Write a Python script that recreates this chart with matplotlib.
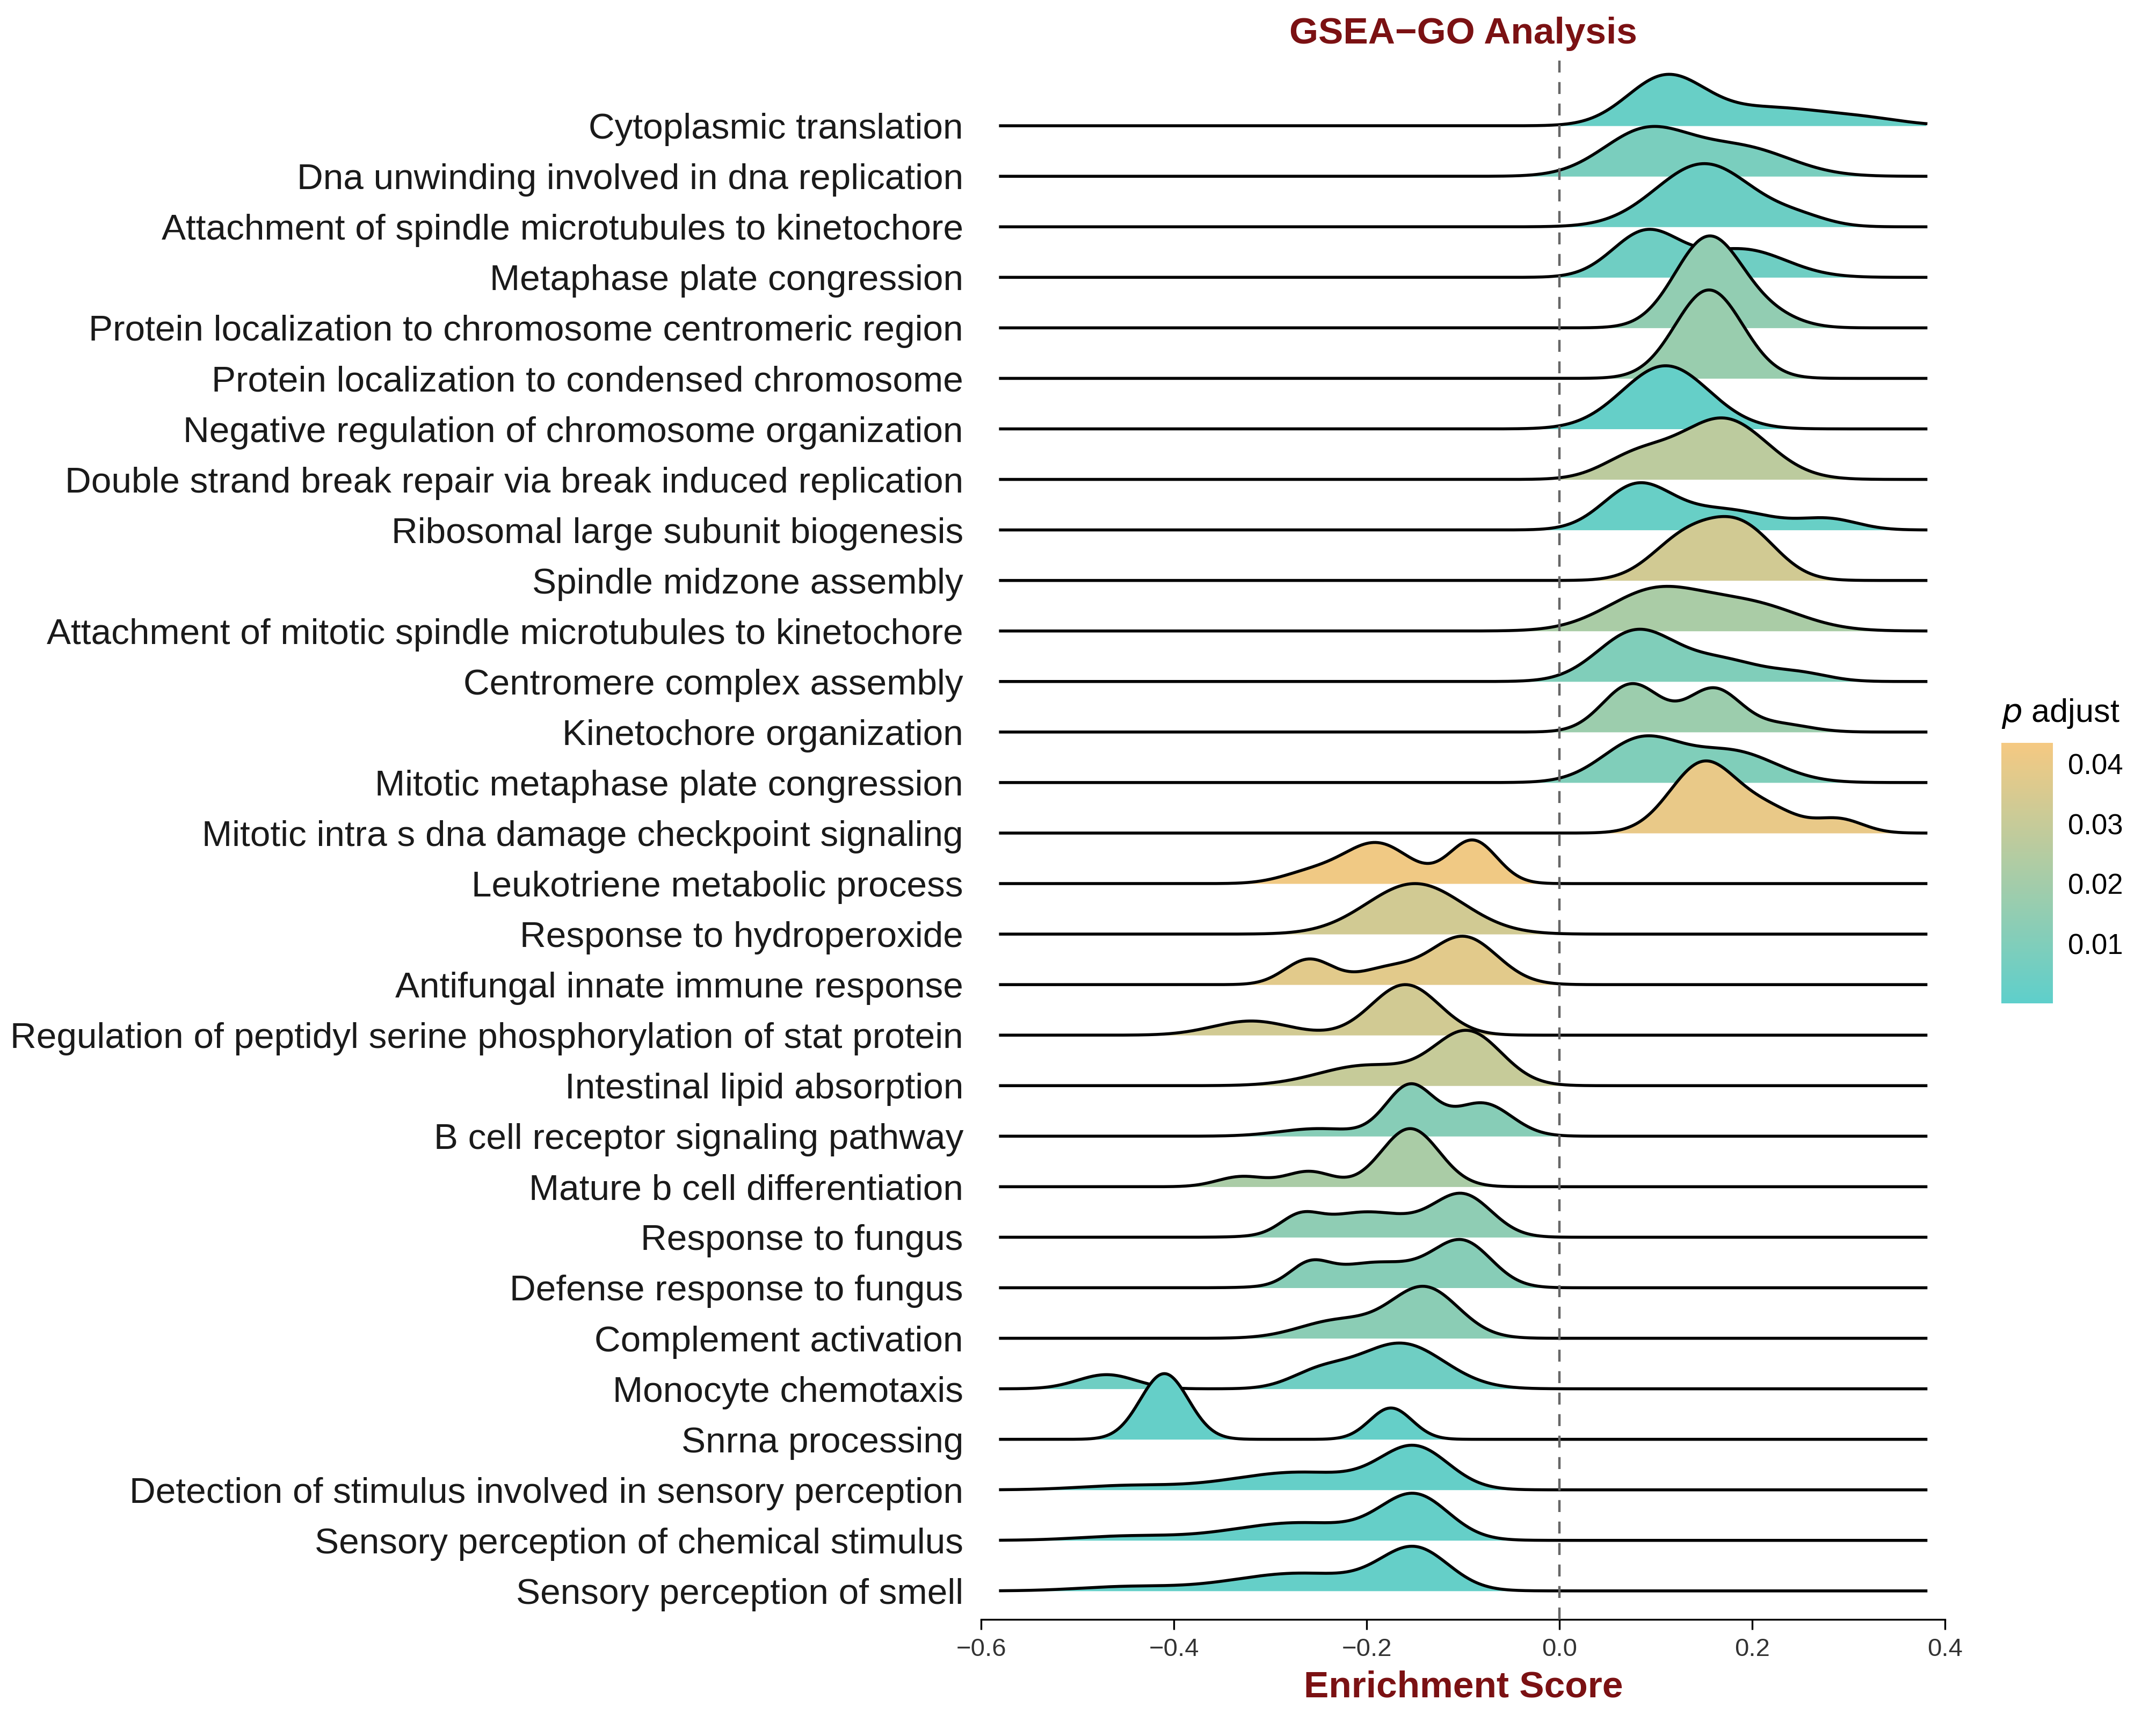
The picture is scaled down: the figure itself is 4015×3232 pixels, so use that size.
import numpy as np
import matplotlib
matplotlib.use("Agg")
import matplotlib.pyplot as plt
from matplotlib.colors import LinearSegmentedColormap, Normalize

plt.rcParams["font.family"] = ["Liberation Sans", "DejaVu Sans"]

# GO terms, top to bottom
terms = [
    "Cytoplasmic translation",
    "Dna unwinding involved in dna replication",
    "Attachment of spindle microtubules to kinetochore",
    "Metaphase plate congression",
    "Protein localization to chromosome centromeric region",
    "Protein localization to condensed chromosome",
    "Negative regulation of chromosome organization",
    "Double strand break repair via break induced replication",
    "Ribosomal large subunit biogenesis",
    "Spindle midzone assembly",
    "Attachment of mitotic spindle microtubules to kinetochore",
    "Centromere complex assembly",
    "Kinetochore organization",
    "Mitotic metaphase plate congression",
    "Mitotic intra s dna damage checkpoint signaling",
    "Leukotriene metabolic process",
    "Response to hydroperoxide",
    "Antifungal innate immune response",
    "Regulation of peptidyl serine phosphorylation of stat protein",
    "Intestinal lipid absorption",
    "B cell receptor signaling pathway",
    "Mature b cell differentiation",
    "Response to fungus",
    "Defense response to fungus",
    "Complement activation",
    "Monocyte chemotaxis",
    "Snrna processing",
    "Detection of stimulus involved in sensory perception",
    "Sensory perception of chemical stimulus",
    "Sensory perception of smell",
]

p_adjust = [0.003, 0.008, 0.004, 0.005, 0.015, 0.017, 0.002, 0.027, 0.003, 0.033,
            0.022, 0.010, 0.018, 0.010, 0.040, 0.042, 0.033, 0.038, 0.033, 0.030,
            0.012, 0.022, 0.014, 0.012, 0.013, 0.005, 0.002, 0.002, 0.002, 0.002]

# density components per term: (centre, height in row units, width)
components = [
    [(0.11, 0.95, 0.04), (0.22, 0.35, 0.06), (0.32, 0.1, 0.04)],
    [(0.09, 0.9, 0.045), (0.19, 0.55, 0.05)],
    [(0.15, 1.25, 0.05), (0.25, 0.15, 0.03)],
    [(0.09, 0.9, 0.035), (0.19, 0.55, 0.045)],
    [(0.155, 1.8, 0.035), (0.22, 0.2, 0.03)],
    [(0.155, 1.75, 0.035)],
    [(0.11, 1.25, 0.045)],
    [(0.17, 1.2, 0.045), (0.08, 0.45, 0.035)],
    [(0.08, 0.85, 0.035), (0.17, 0.4, 0.05), (0.28, 0.2, 0.03)],
    [(0.13, 0.8, 0.035), (0.19, 1.0, 0.035)],
    [(0.10, 0.8, 0.05), (0.20, 0.5, 0.05)],
    [(0.08, 1.0, 0.04), (0.17, 0.4, 0.04), (0.25, 0.15, 0.03)],
    [(0.075, 0.95, 0.03), (0.16, 0.85, 0.028), (0.23, 0.15, 0.03)],
    [(0.085, 0.85, 0.04), (0.18, 0.6, 0.045)],
    [(0.15, 1.4, 0.035), (0.22, 0.4, 0.03), (0.29, 0.27, 0.025)],
    [(-0.19, 0.8, 0.035), (-0.09, 0.85, 0.025), (-0.26, 0.2, 0.03)],
    [(-0.15, 1.0, 0.05)],
    [(-0.26, 0.5, 0.025), (-0.10, 0.95, 0.035), (-0.18, 0.3, 0.03)],
    [(-0.16, 1.0, 0.035), (-0.32, 0.28, 0.04)],
    [(-0.095, 1.05, 0.035), (-0.20, 0.4, 0.05)],
    [(-0.155, 1.0, 0.025), (-0.08, 0.65, 0.03), (-0.25, 0.15, 0.04)],
    [(-0.155, 1.15, 0.03), (-0.26, 0.3, 0.025), (-0.33, 0.2, 0.025)],
    [(-0.10, 0.8, 0.03), (-0.20, 0.5, 0.05), (-0.27, 0.3, 0.02)],
    [(-0.10, 0.85, 0.03), (-0.19, 0.5, 0.05), (-0.26, 0.35, 0.02)],
    [(-0.14, 1.0, 0.035), (-0.23, 0.35, 0.04)],
    [(-0.165, 0.9, 0.045), (-0.25, 0.3, 0.03), (-0.47, 0.28, 0.03)],
    [(-0.41, 1.3, 0.025), (-0.175, 0.62, 0.022)],
    [(-0.15, 0.8, 0.035), (-0.27, 0.35, 0.07), (-0.45, 0.08, 0.05)],
    [(-0.15, 0.85, 0.035), (-0.27, 0.35, 0.07), (-0.45, 0.08, 0.05)],
    [(-0.15, 0.8, 0.035), (-0.27, 0.35, 0.07), (-0.45, 0.08, 0.05)],
]

x_ticks = [-0.6, -0.4, -0.2, 0.0, 0.2, 0.4]
cbar_ticks = [0.01, 0.02, 0.03, 0.04]

title_color = "#7B1113"
cmap = LinearSegmentedColormap.from_list("padj", ["#5ECFCB", "#F5C982"])
norm = Normalize(vmin=0.0, vmax=0.0435)

fig = plt.figure(figsize=(20.08, 16.16), dpi=200)
ax = fig.add_axes([0.455, 0.067, 0.447, 0.901])

xs = np.linspace(-0.58, 0.38, 800)
n = len(terms)
for i, (term, comps, p) in enumerate(zip(terms, components, p_adjust)):
    base = n - 1 - i
    dens = np.zeros_like(xs)
    for c, h, w in comps:
        dens += h * np.exp(-0.5 * ((xs - c) / w) ** 2)
    z = 2 + i
    ax.fill_between(xs, base, base + dens, color=cmap(norm(p)), lw=0, zorder=z)
    ax.plot(xs, base + dens, color="black", lw=2.0, zorder=z + 0.5)

ax.axvline(0, color="#666666", ls=(0, (5, 4)), lw=1.6, zorder=100)

ax.set_xlim(-0.6, 0.4)
ax.set_ylim(-0.57, n - 1 + 1.39)
ax.set_yticks(range(n))
ax.set_yticklabels(terms[::-1], fontsize=24.3, color="#1a1a1a")
ax.tick_params(axis="y", length=0, pad=12)
ax.set_xticks(x_ticks)
ax.set_xticklabels([f"{t:.1f}".replace("-", "\u2212") for t in x_ticks], fontsize=17, color="#333333")
ax.tick_params(axis="x", length=7, width=1.2, pad=5)
for s in ["top", "right", "left"]:
    ax.spines[s].set_visible(False)
ax.spines["bottom"].set_linewidth(1.2)

ax.set_title("GSEA\u2212GO Analysis", fontsize=25, fontweight="bold", color=title_color, pad=8)
ax.set_xlabel("Enrichment Score", fontsize=25, fontweight="bold", color=title_color, labelpad=6)

cax = fig.add_axes([0.928, 0.422, 0.024, 0.15])
sm = matplotlib.cm.ScalarMappable(norm=norm, cmap=cmap)
cb = fig.colorbar(sm, cax=cax, ticks=cbar_ticks)
cb.outline.set_visible(False)
cb.ax.tick_params(length=0, labelsize=19, pad=10)
cb.ax.set_yticklabels([f"{t:.2f}" for t in cbar_ticks])
cax.set_title("$p$ adjust", fontsize=22, pad=14, loc="left")

fig.savefig("out.png", dpi=200)
